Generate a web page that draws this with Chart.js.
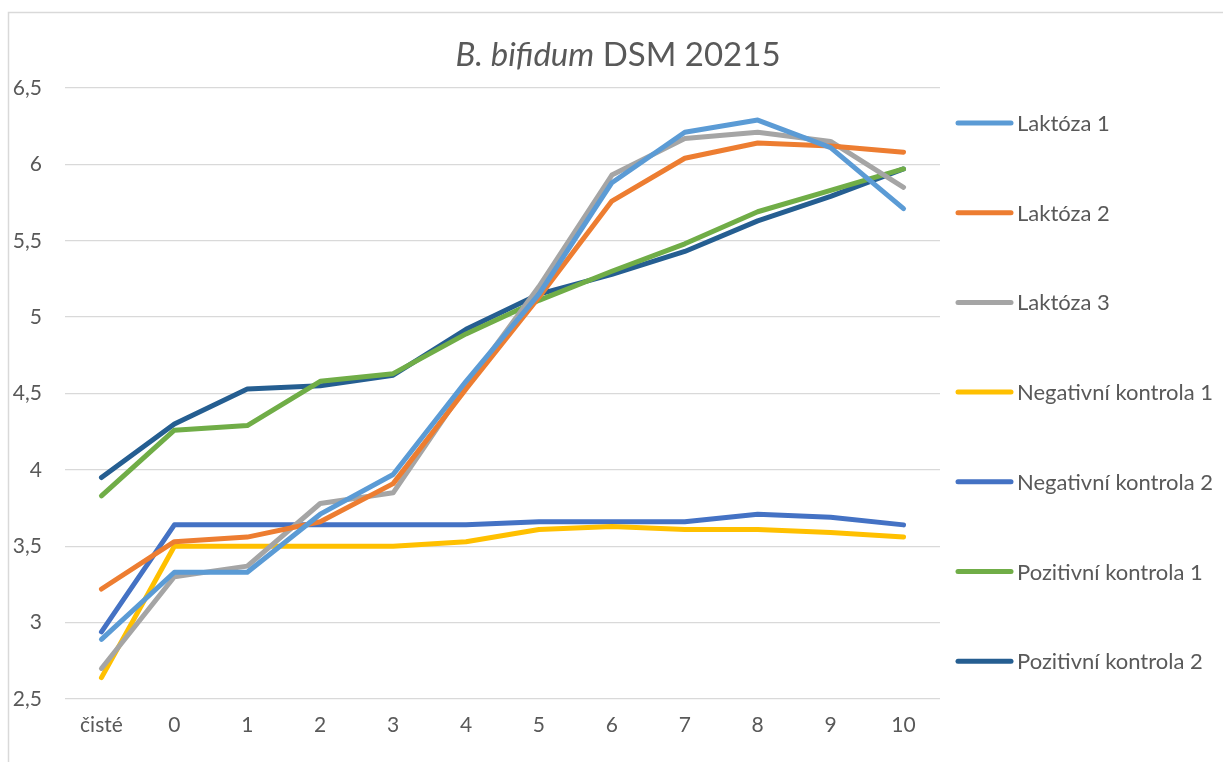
<!DOCTYPE html>
<html lang="cs">
<head>
    <meta charset="utf-8">
    <title>B. bifidum DSM 20215</title>
    <script src="https://cdn.jsdelivr.net/npm/chart.js"></script>
    <style>
        body {
            margin: 0;
            background: #ffffff;
        }
        .chart-container {
            width: 1223px;
            height: 762px;
            position: relative;
        }
    </style>
</head>
<body>
    <div class="chart-container">
        <canvas id="lineChart"></canvas>
    </div>

    <script>
        // Kategorie a hodnoty
        const categories = ['čisté', '0', '1', '2', '3', '4', '5', '6', '7', '8', '9', '10'];
        const laktoza1 = [2.89, 3.33, 3.33, 3.71, 3.97, 4.58, 5.15, 5.88, 6.21, 6.29, 6.11, 5.71];
        const laktoza2 = [3.22, 3.53, 3.56, 3.66, 3.91, 4.53, 5.13, 5.76, 6.04, 6.14, 6.12, 6.08];
        const laktoza3 = [2.70, 3.30, 3.37, 3.78, 3.85, 4.55, 5.20, 5.93, 6.17, 6.21, 6.15, 5.85];
        const negativni1 = [2.64, 3.50, 3.50, 3.50, 3.50, 3.53, 3.61, 3.63, 3.61, 3.61, 3.59, 3.56];
        const negativni2 = [2.94, 3.64, 3.64, 3.64, 3.64, 3.64, 3.66, 3.66, 3.66, 3.71, 3.69, 3.64];
        const pozitivni1 = [3.83, 4.26, 4.29, 4.58, 4.63, 4.89, 5.11, 5.30, 5.48, 5.69, 5.83, 5.97];
        const pozitivni2 = [3.95, 4.30, 4.53, 4.55, 4.62, 4.92, 5.15, 5.28, 5.43, 5.63, 5.79, 5.97];
        const yTicks = [2.5, 3, 3.5, 4, 4.5, 5, 5.5, 6, 6.5];

        const textColor = '#595959';
        const fontFamily = 'Lato, "Open Sans", sans-serif';

        function serie(label, data, color) {
            return {
                label: label,
                data: data,
                borderColor: color,
                backgroundColor: color,
                borderWidth: 5,
                borderCapStyle: 'round',
                borderJoinStyle: 'round',
                pointRadius: 0,
                tension: 0,
                fill: false
            };
        }

        // Ramecek, titulek a legenda
        const excelLook = {
            id: 'excelLook',
            beforeDraw(chart) {
                const c = chart.ctx;
                c.save();
                c.strokeStyle = '#d9d9d9';
                c.lineWidth = 1.5;
                c.strokeRect(8.5, 12.5, 1400, 1000);
                c.restore();
            },
            afterDraw(chart) {
                const c = chart.ctx;
                c.save();
                // titulek: kurziva + normalni
                const italic = 'italic 33px ' + fontFamily;
                const normal = '33px ' + fontFamily;
                c.font = italic;
                const w1 = c.measureText('B. bifidum').width;
                c.font = normal;
                const w2 = c.measureText(' DSM 20215').width;
                let x = 618 - (w1 + w2) / 2;
                c.fillStyle = textColor;
                c.textBaseline = 'alphabetic';
                c.font = italic;
                c.fillText('B. bifidum', x, 66);
                c.font = normal;
                c.fillText(' DSM 20215', x + w1, 66);

                // legenda vpravo
                c.font = '22px ' + fontFamily;
                c.textBaseline = 'middle';
                chart.data.datasets.forEach((ds, i) => {
                    const y = 123 + i * 89.7;
                    c.strokeStyle = ds.borderColor;
                    c.lineWidth = 5;
                    c.lineCap = 'round';
                    c.beginPath();
                    c.moveTo(958, y);
                    c.lineTo(1011, y);
                    c.stroke();
                    c.fillStyle = textColor;
                    c.fillText(ds.label, 1017, y + 1);
                });
                c.restore();
            }
        };

        const ctx = document.getElementById('lineChart').getContext('2d');
        const chart = new Chart(ctx, {
            type: 'line',
            data: {
                labels: categories,
                datasets: [
                    serie('Laktóza 1', laktoza1, '#5B9BD5'),
                    serie('Laktóza 2', laktoza2, '#ED7D31'),
                    serie('Laktóza 3', laktoza3, '#A5A5A5'),
                    serie('Negativní kontrola 1', negativni1, '#FFC000'),
                    serie('Negativní kontrola 2', negativni2, '#4472C4'),
                    serie('Pozitivní kontrola 1', pozitivni1, '#70AD47'),
                    serie('Pozitivní kontrola 2', pozitivni2, '#255E91')
                ]
            },
            options: {
                responsive: true,
                maintainAspectRatio: false,
                animation: false,
                layout: {
                    padding: { left: 0, top: 88, right: 283, bottom: 0 }
                },
                plugins: {
                    legend: { display: false },
                    title: { display: false },
                    tooltip: { enabled: false }
                },
                scales: {
                    x: {
                        offset: true,
                        grid: { display: false, drawTicks: false },
                        border: { display: false },
                        ticks: {
                            color: textColor,
                            padding: 14,
                            maxRotation: 0,
                            font: { size: 21, family: fontFamily }
                        },
                        afterFit(scale) { scale.height = 63; }
                    },
                    y: {
                        min: 2.5,
                        max: 6.5,
                        afterBuildTicks(scale) {
                            scale.ticks = yTicks.map(v => ({ value: v }));
                        },
                        grid: { color: '#d9d9d9', lineWidth: 1.3, drawTicks: false },
                        border: { display: false },
                        ticks: {
                            color: textColor,
                            padding: 23,
                            font: { size: 21, family: fontFamily },
                            callback: v => String(v).replace('.', ',')
                        },
                        afterFit(scale) { scale.width = 65; }
                    }
                }
            },
            plugins: [excelLook]
        });
    </script>
</body>
</html>
